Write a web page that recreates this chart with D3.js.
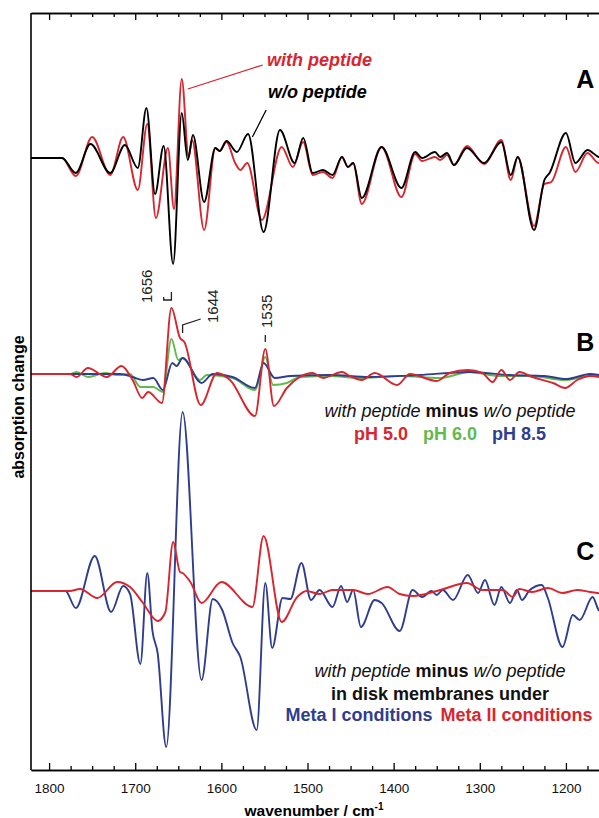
<!DOCTYPE html>
<html>
<head>
<meta charset="utf-8">
<script src="https://cdn.jsdelivr.net/npm/d3@7"></script>
<style>
  body { margin: 0; background: #fff; }
  text { font-family: "Liberation Sans", Arial, sans-serif; }
</style>
</head>
<body>
<script>
// spectra: [wavenumber cm-1, absorption change (arb. units)]
const withoutPeptideA = [[1821,0],[1785,0],[1769,-15],[1752,14],[1729,-15],[1712,13],[1697,-10],[1687,50],[1677,-36],[1667,12],[1656,-106],[1646,45],[1639,-2],[1633,23],[1620,-44],[1607,10],[1602,7],[1594,17],[1582,6],[1569,24],[1551,-74],[1532,28],[1515,-5],[1505,20],[1494,-15],[1482,-12],[1471,-17],[1460,1],[1453,-9],[1447,-5],[1437,-40],[1414,11],[1391,-30],[1375,6],[1367,0],[1352,6],[1346,1],[1338,5],[1330,-7],[1315,10],[1295,-5],[1275,16],[1264,-17],[1256,1],[1237,-72],[1225,-22],[1219,-15],[1200,25],[1189,-5],[1175,8],[1162,1],[1155,0]];
const withPeptideA = [[1821,0],[1785,0],[1769,-18],[1750,21],[1729,-17],[1714,21],[1697,-32],[1686,34],[1676,-60],[1662,10],[1655,-51],[1646,79],[1638,1],[1634,18],[1620,-72],[1607,10],[1602,7],[1594,16],[1584,-5],[1578,-12],[1570,-5],[1553,-62],[1530,11],[1517,-9],[1505,16],[1494,-17],[1482,-14],[1471,-20],[1460,1],[1453,-9],[1447,-5],[1437,-46],[1414,11],[1391,-39],[1375,4],[1367,-3],[1352,1],[1346,-2],[1338,3],[1330,-7],[1315,12],[1295,-6],[1275,18],[1264,-22],[1256,1],[1237,-68],[1225,-26],[1217,-24],[1200,11],[1189,-14],[1175,5],[1162,-5],[1155,-5]];

const diffPH50 = [[1821,0],[1776,0],[1768,-3],[1755,6],[1733,-3],[1716,8],[1703,-6],[1692,-24],[1685,-18],[1669,-29],[1658,66],[1648,36],[1643,32],[1624,-31],[1605,1],[1590,-6],[1561,-42],[1549,25],[1539,-32],[1524,-14],[1509,-3],[1494,1],[1482,-4],[1460,2],[1451,-2],[1437,-6],[1422,1],[1396,-11],[1381,0],[1350,-7],[1335,1],[1314,4],[1297,1],[1285,-8],[1275,4],[1265,-6],[1254,2],[1239,-3],[1215,-9],[1201,-14],[1187,-6],[1172,-2],[1155,-4]];
const diffPH60 = [[1821,0],[1776,0],[1768,2],[1755,-3],[1735,1],[1721,-1],[1706,0],[1694,-13],[1679,-13],[1668,-18],[1658,35],[1650,14],[1645,16],[1625,-6],[1617,-1],[1587,-4],[1561,-16],[1549,17],[1540,-11],[1524,-9],[1509,-3],[1474,-2],[1440,-4],[1393,-2],[1346,-4],[1312,2],[1277,-2],[1242,-2],[1201,-6],[1172,-2],[1155,-2]];
const diffPH85 = [[1821,0],[1718,0],[1703,-3],[1691,-6],[1679,-4],[1668,-16],[1657,11],[1652,8],[1645,16],[1623,-9],[1610,0],[1587,-3],[1561,-14],[1551,11],[1538,-4],[1520,-2],[1474,-1],[1428,-3],[1370,-1],[1312,2],[1265,-1],[1225,-2],[1199,-5],[1172,0],[1155,-2]];

const diskMetaI = [[1821,0],[1781,0],[1769,-17],[1747,35],[1728,-21],[1714,5],[1706,-3],[1694,-73],[1686,18],[1680,-40],[1674,-62],[1664,-156],[1645,179],[1623,-89],[1610,-8],[1599,-19],[1587,-52],[1578,-66],[1559,-139],[1549,8],[1541,-57],[1529,-7],[1520,-8],[1507,28],[1496,-9],[1486,1],[1471,-16],[1461,5],[1454,-11],[1447,1],[1438,-36],[1422,-9],[1414,-12],[1393,-40],[1378,1],[1367,-6],[1356,0],[1350,-4],[1343,1],[1331,-9],[1314,16],[1302,-2],[1294,11],[1283,-14],[1275,4],[1265,-12],[1257,1],[1251,-9],[1242,1],[1228,6],[1221,-7],[1204,-56],[1192,-24],[1184,-29],[1169,-6],[1162,-19],[1155,-22]];
const diskMetaII = [[1821,0],[1776,0],[1764,2],[1744,-7],[1721,9],[1706,4],[1691,-12],[1674,-30],[1665,-21],[1656,49],[1648,19],[1645,18],[1636,9],[1623,-12],[1600,9],[1564,-16],[1551,55],[1530,-31],[1512,-6],[1501,0],[1486,-3],[1471,1],[1447,1],[1430,-3],[1407,4],[1393,-3],[1378,-5],[1346,1],[1315,8],[1297,1],[1273,1],[1262,-6],[1254,2],[1239,-1],[1221,3],[1204,-2],[1187,1],[1172,-1],[1155,-3]];

const majorTicks = [1800, 1700, 1600, 1500, 1400, 1300, 1200];
const minorTicks = [1775, 1750, 1725, 1675, 1650, 1625, 1575, 1550, 1525, 1475, 1450, 1425, 1375, 1350, 1325, 1275, 1250, 1225, 1175];

const RED = '#d7262f', BLUE = '#2f3d8e', GREEN = '#63b94f', BLACK = '#000';

const width = 599, height = 818;
const plot = {left: 31, right: 609, top: 13, bottom: 770};

// panel offsets on the absorption axis
const offA = 612, offB = 396, offC = 179;

const svg = d3.select('body').append('svg')
    .attr('width', width)
    .attr('height', height);

const x = d3.scaleLinear()
    .domain([1821, 1150])
    .range([plot.left, plot.right]);

const y = d3.scaleLinear()
    .domain([0, 757])
    .range([plot.bottom, plot.top]);

svg.append('clipPath').attr('id', 'clip')
  .append('rect')
    .attr('x', plot.left).attr('y', plot.top)
    .attr('width', plot.right - plot.left).attr('height', plot.bottom - plot.top);

const line = off => d3.line()
    .x(d => x(d[0]))
    .y(d => y(off + d[1]))
    .curve(d3.curveMonotoneX);

const series = [
    {data: withPeptideA, off: offA, color: RED},
    {data: withoutPeptideA, off: offA, color: BLACK},
    {data: diffPH60, off: offB, color: GREEN},
    {data: diffPH85, off: offB, color: BLUE},
    {data: diffPH50, off: offB, color: RED},
    {data: diskMetaI, off: offC, color: BLUE},
    {data: diskMetaII, off: offC, color: RED}
];

svg.append('g').attr('clip-path', 'url(#clip)')
  .selectAll('path')
  .data(series)
  .enter()
  .append('path')
    .attr('d', s => line(s.off)(s.data))
    .attr('fill', 'none')
    .attr('stroke', s => s.color)
    .attr('stroke-width', 1.9)
    .attr('stroke-linejoin', 'round');

// axes (ticks pointing inwards)
const bottom = svg.append('g')
    .attr('transform', `translate(0, ${plot.bottom})`)
    .call(d3.axisBottom(x).tickValues(majorTicks).tickSize(-7).tickSizeOuter(0).tickPadding(13).tickFormat(d3.format('d')));
svg.append('g')
    .attr('transform', `translate(0, ${plot.bottom})`)
    .call(d3.axisBottom(x).tickValues(minorTicks).tickSize(-4).tickSizeOuter(0).tickFormat(''));
svg.append('g')
    .attr('transform', `translate(0, ${plot.top})`)
    .call(d3.axisTop(x).tickValues(majorTicks).tickSize(-7).tickSizeOuter(0).tickFormat(''));
svg.append('g')
    .attr('transform', `translate(0, ${plot.top})`)
    .call(d3.axisTop(x).tickValues(minorTicks).tickSize(-4).tickSizeOuter(0).tickFormat(''));

svg.selectAll('.domain').attr('stroke-width', 1.6);
svg.selectAll('.tick line').attr('stroke-width', 1.3);
bottom.selectAll('text')
    .attr('font-family', '"Liberation Sans", Arial, sans-serif')
    .attr('font-size', '13.5px')
    .attr('fill', '#111');

svg.append('line')
    .attr('x1', plot.left).attr('x2', plot.left)
    .attr('y1', plot.top).attr('y2', plot.bottom)
    .attr('stroke', '#000').attr('stroke-width', 1.6);

// axis titles
const xTitle = svg.append('text')
    .attr('x', 314).attr('y', 816)
    .attr('text-anchor', 'middle')
    .attr('font-size', '15.5px').attr('font-weight', 'bold');
xTitle.append('tspan').text('wavenumber / cm');
xTitle.append('tspan').attr('dy', -6).attr('font-size', '10px').text('-1');

svg.append('text')
    .attr('transform', 'translate(24, 407) rotate(-90)')
    .attr('text-anchor', 'middle')
    .attr('font-size', '16px').attr('font-weight', 'bold')
    .text('absorption change');

// panel letters
[['A', offA + 70], ['B', offB + 23], ['C', offC + 31]].forEach(([t, v]) => {
    svg.append('text')
        .attr('x', x(1167)).attr('y', y(v))
        .attr('text-anchor', 'end')
        .attr('font-size', '25px').attr('font-weight', 'bold')
        .text(t);
});

// panel A annotations
const leader = (p, color) => svg.append('path')
    .attr('d', d3.line()(p.map(d => [x(d[0]), y(d[1])])))
    .attr('fill', 'none').attr('stroke', color).attr('stroke-width', 1.3);

leader([[1639, offA + 69], [1552, offA + 93]], RED);
leader([[1564, offA + 21], [1548, offA + 48]], BLACK);

svg.append('text')
    .attr('x', x(1547)).attr('y', y(offA + 92))
    .attr('font-size', '18px').attr('font-weight', 'bold').attr('font-style', 'italic')
    .attr('fill', RED).text('with peptide');
svg.append('text')
    .attr('x', x(1546)).attr('y', y(offA + 60))
    .attr('font-size', '18px').attr('font-weight', 'bold').attr('font-style', 'italic')
    .attr('fill', BLACK).text('w/o peptide');

// panel B peak labels (rotated, baseline on the right)
const peakLabels = [
    {text: '1656', w: 1680.5, v: offB + 71},
    {text: '1644', w: 1604, v: offB + 51},
    {text: '1535', w: 1541, v: offB + 46}
];
svg.selectAll('.peak')
  .data(peakLabels)
  .enter()
  .append('text')
    .attr('class', 'peak')
    .attr('transform', d => `translate(${x(d.w)}, ${y(d.v)}) rotate(-90)`)
    .attr('font-size', '15px')
    .attr('fill', '#222')
    .text(d => d.text);

leader([[1667, offB + 77], [1667, offB + 74], [1658, offB + 74], [1658, offB + 82]], '#222');
leader([[1645, offB + 41], [1645, offB + 49], [1624, offB + 55]], '#222');
leader([[1549, offB + 39], [1549, offB + 32]], '#222');

// panel B caption
const capB = svg.append('text')
    .attr('x', 450).attr('y', y(offB - 43))
    .attr('text-anchor', 'middle').attr('font-size', '18px').attr('fill', '#111');
capB.append('tspan').attr('font-style', 'italic').text('with peptide ');
capB.append('tspan').attr('font-weight', 'bold').text('minus');
capB.append('tspan').attr('font-style', 'italic').text(' w/o peptide');

const phB = svg.append('text')
    .attr('x', 450).attr('y', y(offB - 66))
    .attr('text-anchor', 'middle').attr('font-size', '18px').attr('font-weight', 'bold');
phB.append('tspan').attr('fill', RED).text('pH 5.0');
phB.append('tspan').attr('fill', GREEN).attr('dx', 15).text('pH 6.0');
phB.append('tspan').attr('fill', BLUE).attr('dx', 15).text('pH 8.5');

// panel C caption
const capC = svg.append('text')
    .attr('x', 440).attr('y', y(offC - 86))
    .attr('text-anchor', 'middle').attr('font-size', '18px').attr('fill', '#111');
capC.append('tspan').attr('font-style', 'italic').text('with peptide ');
capC.append('tspan').attr('font-weight', 'bold').text('minus');
capC.append('tspan').attr('font-style', 'italic').text(' w/o peptide');

svg.append('text')
    .attr('x', 440).attr('y', y(offC - 109))
    .attr('text-anchor', 'middle').attr('font-size', '18px').attr('font-weight', 'bold')
    .attr('fill', '#111').text('in disk membranes under');

const metaC = svg.append('text')
    .attr('x', 439).attr('y', y(offC - 130))
    .attr('text-anchor', 'middle').attr('font-size', '18px').attr('font-weight', 'bold');
metaC.append('tspan').attr('fill', BLUE).text('Meta I conditions');
metaC.append('tspan').attr('fill', RED).attr('dx', 8).text('Meta II conditions');
</script>
</body>
</html>
